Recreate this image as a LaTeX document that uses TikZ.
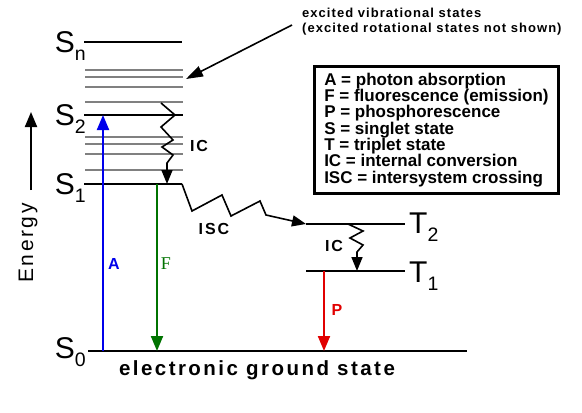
\documentclass[tikz,border=0pt]{standalone}
\usepackage{fontspec}
\setmainfont{Liberation Sans}
\newfontfamily\trackedfont[LetterSpace=12]{Liberation Sans}
\newfontfamily\notefont[LetterSpace=8]{Liberation Sans}
\newfontfamily\serifletter{Liberation Serif}
\usetikzlibrary{arrows.meta}
\definecolor{jbBlue}{RGB}{0, 0, 235}
\definecolor{jbGreen}{RGB}{0, 115, 0}
\definecolor{jbRed}{RGB}{225, 0, 0}
\definecolor{jbGray}{RGB}{128, 128, 128}
\newcommand{\lvlname}[2]{{\fontsize{30}{30}\selectfont #1}\raisebox{-8pt}{\fontsize{19.5}{19.5}\selectfont #2}}
\tikzset{
    level/.style={
        line width=2pt,
        draw=black
    },
    vib/.style={
        line width=2.2pt,
        draw=jbGray
    },
    lvltext/.style={
        inner sep=0pt
    },
    transition/.style={
        line width=2pt,
        -{Triangle[length=15pt, width=12pt]}
    },
    wiggle/.style={
        line width=1.6pt,
        -{Triangle[length=14pt, width=11pt]}
    },
    lbl/.style={
        font=\trackedfont\bfseries\fontsize{16}{16}\selectfont,
        inner sep=0pt
    },
    key/.style={
        draw,
        line width=2.5pt,
        align=left,
        inner xsep=10pt,
        minimum width=237pt,
        minimum height=127pt,
        font=\bfseries\fontsize{17}{16.3}\selectfont
    }
}

\begin{document}
\begin{tikzpicture}[x=1pt, y=-1pt]
  \useasboundingbox (0,0) rectangle (582,413);

  % Singlet and triplet levels
  \coordinate (Snw) at (84,42);   \coordinate (Sne) at (182,42);
  \coordinate (S2w) at (84,115);  \coordinate (S2e) at (183,115);
  \coordinate (S1w) at (84,184);  \coordinate (S1e) at (182,184);
  \coordinate (S0w) at (88,351);  \coordinate (S0e) at (467,351);
  \coordinate (T2w) at (306,224); \coordinate (T2e) at (405,224);
  \coordinate (T1w) at (306,271); \coordinate (T1e) at (405,271);

  % Vibrational sublevels
  \foreach \y in {70,77,87,102,137,144,154,170}
    \draw[vib] (85,\y) -- (183,\y);

  \draw[level] (Snw) -- (Sne);
  \draw[level] (S2w) -- (S2e);
  \draw[level] (S1w) -- (S1e);
  \draw[level] (S0w) -- (S0e);
  \draw[level] (T2w) -- (T2e);
  \draw[level] (T1w) -- (T1e);

  \node[lvltext, anchor=base east] (Snlbl) at (86,52) {\lvlname{S}{n}};
  \node[lvltext, anchor=base east] (S2lbl) at (86,125) {\lvlname{S}{2}};
  \node[lvltext, anchor=base east] (S1lbl) at (86,194) {\lvlname{S}{1}};
  \node[lvltext, anchor=base east] (S0lbl) at (86,358) {\lvlname{S}{0}};
  \node[lvltext, anchor=base west] (T2lbl) at (409,233) {\lvlname{T}{2}};
  \node[lvltext, anchor=base west] (T1lbl) at (409,282) {\lvlname{T}{1}};

  % Radiative transitions
  \coordinate (A0) at (103,351); \coordinate (A2) at (103,115);
  \coordinate (F1) at (157,184); \coordinate (F0) at (157,351);
  \coordinate (P1) at (324,271); \coordinate (P0) at (324,351);
  \draw[transition, jbBlue] (A0) -- (A2);
  \draw[transition, jbGreen] (F1) -- (F0);
  \draw[transition, jbRed] (P1) -- (P0);
  \node[lbl, text=jbBlue] (Albl) at (114,264) {A};
  \node[inner sep=0pt, text=jbGreen, font=\serifletter\fontsize{18}{18}\selectfont] (Flbl) at (166,264) {F};
  \node[lbl, text=jbRed] (Plbl) at (337,310) {P};

  % Non-radiative transitions
  \coordinate (icS) at (161,103); \coordinate (icS1) at (167,184);
  \coordinate (icT) at (348,224); \coordinate (icT1) at (357,271);
  \draw[wiggle] (icS) -- (175,115) -- (161,127) -- (173,140) -- (162,147)
    -- (173,155) -- (167,163) -- (icS1);
  \draw[wiggle] (S1e) -- (192,211) -- (222,195) -- (231,216) -- (260,201)
    -- (266,215) -- (T2w);
  \draw[wiggle] (icT) -- (363,231) -- (350,238) -- (363,245) -- (357,252)
    -- (icT1);
  \node[lbl] (icSlbl) at (199,146) {IC};
  \node[lbl] (isclbl) at (214,229) {ISC};
  \node[lbl] (icTlbl) at (334,246) {IC};

  % Energy axis
  \node[rotate=90, inner sep=0pt, font=\trackedfont\fontsize{21}{21}\selectfont] (energy) at (28,243) {Energy};
  \coordinate (eTop) at (31,112); \coordinate (eBot) at (31,190);
  \draw[line width=2pt, -{Triangle[length=15pt, width=12pt]}] (eBot) -- (eTop);

  \node[font=\trackedfont\bfseries\fontsize{20.5}{20.5}\selectfont] (ground) at (257,370) {electronic ground state};

  % Annotation
  \node[anchor=north west, align=left, inner sep=0pt, font=\notefont\bfseries\fontsize{13}{15}\selectfont] (note) at (302,8)
    {excited vibrational states\\(excited rotational states not shown)};
  \coordinate (noteTail) at (292,25); \coordinate (noteTip) at (186,79);
  \draw[line width=1.6pt, -{Triangle[length=17pt, width=11pt]}] (noteTail) -- (noteTip);

  % Key
  \node[key, anchor=north west] (legend) at (313,65) {A = photon absorption\\F = fluorescence (emission)\\P = phosphorescence\\S = singlet state\\T = triplet state\\IC = internal conversion\\ISC = intersystem crossing};
\end{tikzpicture}
\end{document}
